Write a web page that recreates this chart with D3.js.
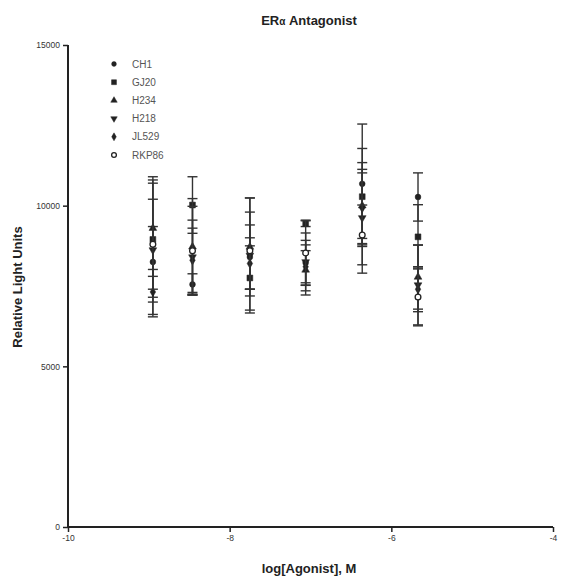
<!DOCTYPE html>
<html><head><meta charset="utf-8">
<script src="https://cdn.jsdelivr.net/npm/d3@7/dist/d3.min.js"></script>
<style>body{margin:0;background:#fff}svg{display:block}</style>
</head><body>
<svg id="c" width="562" height="578"></svg>
<script>
const doses = [-8.95, -8.46, -7.75, -7.06, -6.36, -5.67];
const seriesNames = ["CH1", "GJ20", "H234", "H218", "JL529", "RKP86"];
const meanCH1   = [8250, 7550, 8400, 8220, 10680, 10270];
const sdCH1     = [1100, 330, 1000, 700, 1860, 750];
const meanGJ20  = [8950, 10020, 7750, 9450, 10280, 9030];
const sdGJ20    = [1950, 880, 1000, 100, 1500, 1000];
const meanH234  = [9300, 8720, 8715, 8000, 10000, 7780];
const sdH234    = [1500, 1500, 1525, 780, 1020, 1000];
const meanH218  = [8620, 8400, 8450, 8250, 9620, 7530];
const sdH218    = [2080, 1150, 1790, 900, 1720, 1240];
const meanJL529 = [7315, 8300, 8200, 8100, 9930, 7400];
const sdJL529   = [700, 1000, 800, 500, 1200, 700];
const meanRKP86 = [8800, 8600, 8600, 8530, 9090, 7160];
const sdRKP86   = [1400, 1380, 1200, 1000, 930, 900];
const xTicks = [-10, -8, -6, -4];
const yTicks = [0, 5000, 10000, 15000];

const means = [meanCH1, meanGJ20, meanH234, meanH218, meanJL529, meanRKP86];
const sds = [sdCH1, sdGJ20, sdH234, sdH218, sdJL529, sdRKP86];
const symbols = [d3.symbolCircle, d3.symbolSquare, d3.symbolTriangle, d3.symbolTriangle, d3.symbolDiamond, d3.symbolCircle];
const rot = [0, 0, 0, 180, 0, 0];
const filled = [true, true, true, true, true, false];

const svg = d3.select("#c");
const x = d3.scaleLinear().domain([-10, -4]).range([68, 553]);
const y = d3.scaleLinear().domain([0, 15000]).range([527, 45]);
const ink = "#222";
const fmt = d => String(d);

// axes
const xAxis = svg.append("g").attr("transform", `translate(0,${y(0)})`)
  .call(d3.axisBottom(x).tickValues(xTicks).tickSize(5).tickFormat(fmt));
const yAxis = svg.append("g").attr("transform", `translate(${x(-10)},0)`)
  .call(d3.axisLeft(y).tickValues(yTicks).tickSize(5).tickFormat(fmt));
[xAxis, yAxis].forEach(a => {
  a.select(".domain").attr("stroke", ink).attr("stroke-width", 2);
  a.selectAll(".tick line").attr("stroke", ink).attr("stroke-width", 1.5);
  a.selectAll("text").attr("fill", "#333").style("font-family", "Liberation Sans, Arial, sans-serif").style("font-size", "8.5px");
});
xAxis.selectAll(".domain").attr("d", `M${x(-10)},0H${x(-4)}`);
yAxis.selectAll(".domain").attr("d", `M0,${y(15000)}V${y(0)}`);

// data
seriesNames.forEach((name, s) => {
  const g = svg.append("g");
  doses.forEach((d, i) => {
    const cx = x(d), m = means[s][i], sd = sds[s][i];
    g.append("line").attr("x1", cx).attr("x2", cx).attr("y1", y(m + sd)).attr("y2", y(m - sd))
      .attr("stroke", "#333").attr("stroke-width", 1.4);
    [m + sd, m - sd].forEach(v => g.append("line").attr("x1", cx - 5).attr("x2", cx + 5)
      .attr("y1", y(v)).attr("y2", y(v)).attr("stroke", "#333").attr("stroke-width", 1.4));
    g.append("path").attr("d", d3.symbol().type(symbols[s]).size(s === 1 ? 34 : 26)())
      .attr("transform", `translate(${cx},${y(m)}) rotate(${rot[s]})`)
      .attr("fill", filled[s] ? ink : "#fff").attr("stroke", ink).attr("stroke-width", filled[s] ? 0.5 : 1.3);
  });
});

// legend
seriesNames.forEach((name, s) => {
  const ly = 64 + s * 18.2;
  svg.append("path").attr("d", d3.symbol().type(symbols[s]).size(s === 1 ? 24 : 18)())
    .attr("transform", `translate(114,${ly}) rotate(${rot[s]})`)
    .attr("fill", filled[s] ? ink : "#fff").attr("stroke", ink).attr("stroke-width", filled[s] ? 0.5 : 1.3);
  svg.append("text").attr("x", 132).attr("y", ly + 3.5).text(name)
    .attr("fill", "#555").style("font-family", "Liberation Sans, Arial, sans-serif").style("font-size", "10px");
});

// titles
const title = svg.append("text").attr("x", 309).attr("y", 25).attr("text-anchor", "middle")
  .style("font-family", "Liberation Sans, Arial, sans-serif").style("font-weight", "bold").style("font-size", "13px").attr("fill", "#222");
title.append("tspan").text("ER");
title.append("tspan").text("α").style("font-size", "10px");
title.append("tspan").text(" Antagonist");

svg.append("text").attr("x", 309).attr("y", 573).attr("text-anchor", "middle").text("log[Agonist], M")
  .style("font-family", "Liberation Sans, Arial, sans-serif").style("font-weight", "bold").style("font-size", "13px").attr("fill", "#222");
svg.append("text").attr("transform", "translate(22,287) rotate(-90)").attr("text-anchor", "middle").text("Relative Light Units")
  .style("font-family", "Liberation Sans, Arial, sans-serif").style("font-weight", "bold").style("font-size", "13px").attr("fill", "#222");
</script>
</body></html>
